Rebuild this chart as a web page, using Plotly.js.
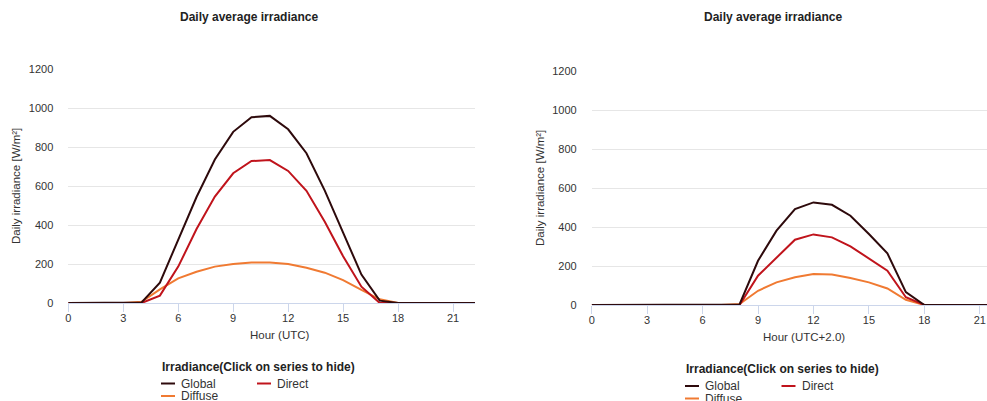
<!DOCTYPE html>
<html>
<head>
<meta charset="utf-8">
<script src="https://cdn.plot.ly/plotly-3.0.1.min.js"></script>
<style>html,body{margin:0;padding:0;background:#fff;}#chart{width:987px;height:401px;}</style>
</head>
<body>
<div id="chart"></div>
<script>
// ---- data ----
const hours = [0,1,2,3,4,5,6,7,8,9,10,11,12,13,14,15,16,17,18,19,20,21,22,23];
const globalUTC  = [0,0,0,0,3,105,324,545,738,880,955,962,893,770,578,362,146,12,0,0,0,0,0,0];
const directUTC  = [0,0,0,0,0,38,187,380,547,667,730,735,679,577,418,240,84,0,0,0,0,0,0,0];
const diffuseUTC = [0,0,0,0,6,70,127,161,187,200,208,208,200,181,156,118,67,19,0,0,0,0,0,0];
const globalLocal  = [0,0,0,0,0,0,0,0,3,227,381,492,526,514,458,364,265,66,0,0,0,0,0,0];
const directLocal  = [0,0,0,0,0,0,0,0,0,150,244,335,362,347,301,239,176,40,0,0,0,0,0,0];
const diffuseLocal = [0,0,0,0,0,0,0,0,5,73,116,142,159,156,138,116,85,27,0,0,0,0,0,0];
const seriesNames = ['Global','Direct','Diffuse'];
const seriesColors = ['#2e0a0c','#c0141c','#f07a32'];
const titleText = 'Daily average irradiance';
const yTitle = 'Daily irradiance [W/m²]';
const xTitleLeft = 'Hour (UTC)';
const xTitleRight = 'Hour (UTC+2.0)';
const legendTitle = 'Irradiance(Click on series to hide)';
const xTicks = [0,3,6,9,12,15,18,21];
const yTicks = [0,200,400,600,800,1000,1200];

const W = 987, H = 401;
const px = x => x / W;
const py = y => 1 - y / H;
const FONT = 'Liberation Sans, Arial, sans-serif';
const TXT = '#333333';

const leftSets = [globalUTC, directUTC, diffuseUTC];
const rightSets = [globalLocal, directLocal, diffuseLocal];
const traces = [];
leftSets.forEach((d, i) => traces.push({x: hours, y: d, type: 'scatter', mode: 'lines', name: seriesNames[i],
  line: {color: seriesColors[i], width: 2}, xaxis: 'x', yaxis: 'y', showlegend: false, hoverinfo: 'x+y+name'}));
rightSets.forEach((d, i) => traces.push({x: hours, y: d, type: 'scatter', mode: 'lines', name: seriesNames[i],
  line: {color: seriesColors[i], width: 2}, xaxis: 'x2', yaxis: 'y2', showlegend: false, hoverinfo: 'x+y+name'}));
traces.reverse();

function xAxis(domain, range, anchor) {
  return {domain: domain, range: range, anchor: anchor, tickmode: 'array', tickvals: xTicks,
    ticktext: xTicks.map(String), showgrid: false, zeroline: false, showline: true, linecolor: '#ccd6eb',
    linewidth: 1, ticks: 'outside', ticklen: 8, tickcolor: '#ccd6eb', tickwidth: 1, ticklabelstandoff: -3,
    tickfont: {family: FONT, size: 11, color: TXT}, fixedrange: true};
}
function yAxis(domain, anchor) {
  return {domain: domain, range: [0, 1200], anchor: anchor, tickmode: 'array', tickvals: yTicks,
    ticktext: yTicks.map(String), showgrid: true, gridcolor: '#e6e6e6', gridwidth: 1, zeroline: false,
    showline: false, ticks: '', ticklabelstandoff: 14,
    tickfont: {family: FONT, size: 11, color: TXT}, fixedrange: true};
}

const annotations = [];
const shapes = [];
function addText(text, x, y, opts) {
  annotations.push(Object.assign({text: text, x: px(x), y: py(y), xref: 'paper', yref: 'paper',
    showarrow: false, xanchor: 'center', yanchor: 'middle',
    font: {family: FONT, size: 12, color: TXT}}, opts || {}));
}
// chart titles
addText('<b>' + titleText + '</b>', 249, 17, {font: {family: FONT, size: 12, color: '#222222'}});
addText('<b>' + titleText + '</b>', 773, 17, {font: {family: FONT, size: 12, color: '#222222'}});
// axis titles
addText(xTitleLeft, 280, 335, {font: {family: FONT, size: 11.5, color: TXT}});
addText(xTitleRight, 804, 337, {font: {family: FONT, size: 11.5, color: TXT}});
addText(yTitle, 16, 186, {textangle: -90, font: {family: FONT, size: 11.5, color: TXT}});
addText(yTitle, 540, 188, {textangle: -90, font: {family: FONT, size: 11.5, color: TXT}});

// legends (drawn manually to mimic layout)
function legend(x0, yTitleC, rows) {
  addText('<b>' + legendTitle + '</b>', x0, yTitleC, {xanchor: 'left', borderpad: 0, font: {family: FONT, size: 12, color: '#222222'}});
  rows.forEach(r => {
    shapes.push({type: 'line', xref: 'paper', yref: 'paper', x0: px(r.lx), x1: px(r.lx + 14), y0: py(r.y), y1: py(r.y),
      line: {color: seriesColors[r.i], width: 2}});
    addText(seriesNames[r.i], r.lx + 19, r.y, {xanchor: 'left', borderpad: 0, font: {family: FONT, size: 12, color: TXT}});
  });
}
legend(160.5, 366.7, [{i: 0, lx: 161, y: 383.5}, {i: 1, lx: 257, y: 383.5}, {i: 2, lx: 161, y: 396}]);
legend(685, 368.5, [{i: 0, lx: 685, y: 386}, {i: 1, lx: 781.5, y: 386}, {i: 2, lx: 685, y: 398.5}]);

const layout = {
  width: W, height: H, margin: {l: 0, r: 0, t: 0, b: 0}, paper_bgcolor: '#ffffff', plot_bgcolor: '#ffffff',
  showlegend: false,
  xaxis: xAxis([px(68.3), px(475)], [0, 22.2], 'y'),
  yaxis: yAxis([py(303), py(69.6)], 'x'),
  xaxis2: xAxis([px(591.7), 1], [0, (987 - 591.7) / 18.48], 'y2'),
  yaxis2: yAxis([py(305), py(71)], 'x2'),
  annotations: annotations, shapes: shapes,
  font: {family: FONT}
};
Plotly.newPlot('chart', traces, layout, {displayModeBar: false});
</script>
</body>
</html>
